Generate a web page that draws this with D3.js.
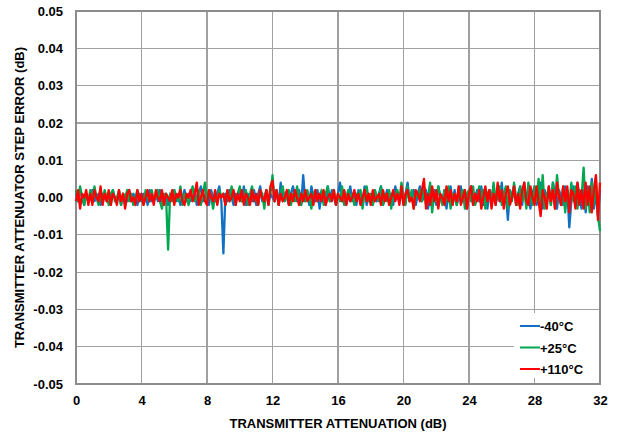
<!DOCTYPE html>
<html>
<head>
<meta charset="utf-8">
<script src="https://cdn.jsdelivr.net/npm/d3@7"></script>
<style>
  html, body { margin: 0; padding: 0; background: #fff; }
  svg text { font-family: "Liberation Sans", Arial, sans-serif; font-weight: bold; fill: #000; }
</style>
</head>
<body>
<svg id="chart" width="626" height="436"></svg>
<script>
// Attenuation settings: 0 to 32 dB in 0.125 dB steps
const attenStep = 0.125;
const attenMax = 32;

// Step error per temperature, in units of 0.001 dB (one row of 8 values per dB)
const errMinus40 = [
  1,-1,2,0,-2,1,-1,0,
  2,-1,0,1,-2,1,0,-1,
  1,-2,2,0,-1,1,-2,1,
  0,-1,2,-1,1,0,-2,1,
  -1,1,0,-2,2,-1,0,1,
  -1,2,-1,0,1,-2,1,0,
  2,-1,1,-2,0,2,-1,1,
  -1,0,2,-2,1,3,-1,0,
  1,-2,2,0,-1,1,3,-1,
  -15,1,-1,2,0,-2,1,0,
  2,-1,3,-2,1,0,-1,2,
  -2,1,3,-1,0,2,-2,1,
  0,-1,2,-2,4,-1,1,0,
  -2,1,3,0,-1,2,-2,6,
  -1,1,-2,3,0,-1,2,-3,
  1,0,-2,3,-1,2,0,-2,
  1,4,-1,2,-2,0,3,-1,
  1,-2,2,0,-1,3,-2,1,
  0,-2,2,-1,1,3,-2,0,
  2,-1,1,-2,3,0,-1,2,
  -2,1,4,-1,0,2,-2,1,
  3,-1,0,2,-3,1,-1,2,
  -2,3,0,-1,2,-3,1,3,
  -1,2,-2,0,3,-1,2,-3,
  1,3,-2,0,2,-1,3,-2,
  1,-3,2,0,3,-2,1,-1,
  4,-2,1,-6,2,0,3,-2,
  1,3,-2,4,-1,2,-3,1,
  3,-2,0,4,-3,2,-1,3,
  -2,4,1,-3,2,0,-2,3,
  2,-8,-1,3,-2,4,0,-3,
  2,-4,3,-1,5,-3,1,-5,
  2
];

const errPlus25 = [
  2,-1,3,0,-2,1,-1,2,
  -1,3,0,-2,1,-1,2,0,
  -2,1,2,-1,0,2,-2,1,
  0,2,-1,1,-2,0,2,-1,
  1,-2,2,0,-1,2,-1,0,
  2,-1,-3,1,0,-14,1,-1,
  2,0,-1,3,-2,1,0,-2,
  1,3,-1,0,2,-2,1,4,
  -1,2,0,-3,1,-1,2,0,
  1,-2,2,-1,3,0,-2,1,
  3,-1,0,2,-2,1,3,-1,
  0,-2,2,1,-3,2,0,1,
  6,-1,2,-2,1,3,-1,0,
  2,-2,1,-1,3,0,-2,1,
  -1,2,0,-3,1,2,-1,0,
  2,-2,1,3,-1,0,2,-2,
  1,-1,3,-2,0,2,-1,1,
  -2,1,0,2,-3,1,3,-1,
  1,-2,2,0,-1,3,-2,1,
  -1,2,-3,1,0,2,-1,4,
  0,-2,3,-1,2,-3,1,0,
  2,-1,3,-2,0,4,-4,1,
  -1,3,0,-2,2,-1,3,-3,
  1,0,-2,3,-1,2,-3,1,
  2,-1,3,-2,0,3,-1,2,
  -3,1,2,-2,4,-1,0,3,
  -2,1,3,-3,2,-1,4,0,
  -2,3,-1,2,-3,4,0,-2,
  3,-1,5,-2,6,-3,1,2,
  -2,4,-3,6,0,-2,3,-4,
  2,-2,4,-1,3,-3,2,0,
  8,-3,2,-4,4,-2,5,-5,
  -9
];

const errPlus110 = [
  -1,2,-3,1,0,2,-2,1,
  -2,2,0,-1,3,-2,1,-1,
  2,-2,1,0,-2,2,-1,1,
  -3,1,2,-1,0,-2,2,-1,
  1,-2,0,2,-1,1,-2,2,
  0,-1,2,-2,1,0,-1,2,
  -2,1,0,2,-1,-2,1,0,
  2,-1,1,4,-2,0,2,-1,
  -2,2,0,-1,2,-2,1,0,
  1,-2,2,-1,0,2,-2,1,
  -1,2,-2,1,0,-2,2,-1,
  1,-2,2,0,-1,2,-2,3,
  4.5,-1,2,-2,1,-1,0,2,
  -2,1,-1,2,0,-2,1,-1,
  2,-1,0,1,-2,2,-1,1,
  -1,2,-2,0,1,-1,2,-2,
  1,0,-1,2,-2,1,-1,0,
  2,-1,1,-2,0,2,-1,1,
  -2,2,-1,0,1,-2,2,-1,
  1,-2,0,2,-1,1,-2,3,
  -2,1,2,-1,0,-3,2,1,
  -1,2,5,-3,1,-2,3,-1,
  2,-3,1,0,-2,3,-1,2,
  -2,1,-1,3,-2,0,2,-3,
  1,3,-2,1,-1,2,-3,0,
  3,-1,2,-3,1,-2,4,-1,
  2,-3,1,3,-2,0,3,-2,
  1,-3,2,4,-1,-2,3,0,
  -2,3,-1,-5,2,0,-3,3,
  -1,2,-3,4,0,-2,3,-1,
  3,-4,2,1,-3,4,-2,2,
  -3,4,-2,3,-4,2,6,-6,
  4
];

const seriesNames = ["-40°C", "+25°C", "+110°C"];
const seriesColors = ["#1070C4", "#00A650", "#FF0000"];
const xTicks = [0, 4, 8, 12, 16, 20, 24, 28, 32];
const yTicks = [-0.05, -0.04, -0.03, -0.02, -0.01, 0, 0.01, 0.02, 0.03, 0.04, 0.05];

const toSeries = arr => arr.map((v, i) => ({ x: i * attenStep, y: v / 1000 }));
const series = [errMinus40, errPlus25, errPlus110].map(toSeries);

const svg = d3.select("#chart");
const margin = { left: 76, right: 26, top: 11, bottom: 52 };
const W = 626, H = 436;

const x = d3.scaleLinear().domain([0, attenMax]).range([margin.left, W - margin.right]);
const y = d3.scaleLinear().domain([-0.05, 0.05]).range([H - margin.bottom, margin.top]);

// grid
const grid = svg.append("g");
grid.selectAll("line.v").data(xTicks).join("line")
  .attr("x1", d => x(d)).attr("x2", d => x(d))
  .attr("y1", y(-0.05)).attr("y2", y(0.05))
  .attr("stroke", "#a0a0a0").attr("stroke-width", 1.2).attr("shape-rendering", "crispEdges");
grid.selectAll("line.h").data(yTicks).join("line")
  .attr("x1", x(0)).attr("x2", x(attenMax))
  .attr("y1", d => y(d)).attr("y2", d => y(d))
  .attr("stroke", "#a0a0a0").attr("stroke-width", 1.2).attr("shape-rendering", "crispEdges");

// plot frame
svg.append("rect")
  .attr("x", x(0)).attr("y", y(0.05))
  .attr("width", x(attenMax) - x(0)).attr("height", y(-0.05) - y(0.05))
  .attr("fill", "none").attr("stroke", "#8c8c8c").attr("stroke-width", 1.5)
  .attr("shape-rendering", "crispEdges");

// data lines
const line = d3.line().x(d => x(d.x)).y(d => y(d.y));
svg.append("g").selectAll("path").data(series).join("path")
  .attr("d", line)
  .attr("fill", "none")
  .attr("stroke", (d, i) => seriesColors[i])
  .attr("stroke-width", 2.3)
  .attr("stroke-linejoin", "round");

// axes
const hyphenFmt = f => d => f(d).replace("\u2212", "-");
const xAxis = d3.axisBottom(x).tickValues(xTicks).tickSize(0).tickPadding(12).tickFormat(d3.format("d"));
const gx = svg.append("g").attr("transform", `translate(0,${y(-0.05)})`).call(xAxis);
gx.select(".domain").remove();
gx.selectAll("text").attr("font-size", 13).style("font-family", "Liberation Sans, Arial, sans-serif").style("font-weight", "bold");

const yAxis = d3.axisLeft(y).tickValues(yTicks).tickSize(0).tickPadding(13).tickFormat(hyphenFmt(d3.format(".2f")));
const gy = svg.append("g").attr("transform", `translate(${x(0)},0)`).call(yAxis);
gy.select(".domain").remove();
gy.selectAll("text").attr("font-size", 13).style("font-family", "Liberation Sans, Arial, sans-serif").style("font-weight", "bold");

// axis titles
svg.append("text")
  .attr("x", (x(0) + x(attenMax)) / 2).attr("y", 428)
  .attr("text-anchor", "middle").attr("font-size", 13)
  .text("TRANSMITTER ATTENUATION (dB)");
svg.append("text")
  .attr("transform", `translate(24,${(y(0.05) + y(-0.05)) / 2}) rotate(-90)`)
  .attr("text-anchor", "middle").attr("font-size", 13)
  .text("TRANSMITTER ATTENUATOR STEP ERROR (dB)");

// legend
const lg = svg.append("g");
lg.append("rect").attr("x", 514).attr("y", 313).attr("width", 85).attr("height", 65).attr("fill", "#fff");
seriesNames.forEach((name, i) => {
  const ly = 326 + i * 21.5;
  lg.append("line").attr("x1", 520).attr("x2", 540).attr("y1", ly).attr("y2", ly)
    .attr("stroke", seriesColors[i]).attr("stroke-width", 2);
  lg.append("text").attr("x", 540).attr("y", ly + 5).attr("font-size", 13).text(name);
});
</script>
</body>
</html>
